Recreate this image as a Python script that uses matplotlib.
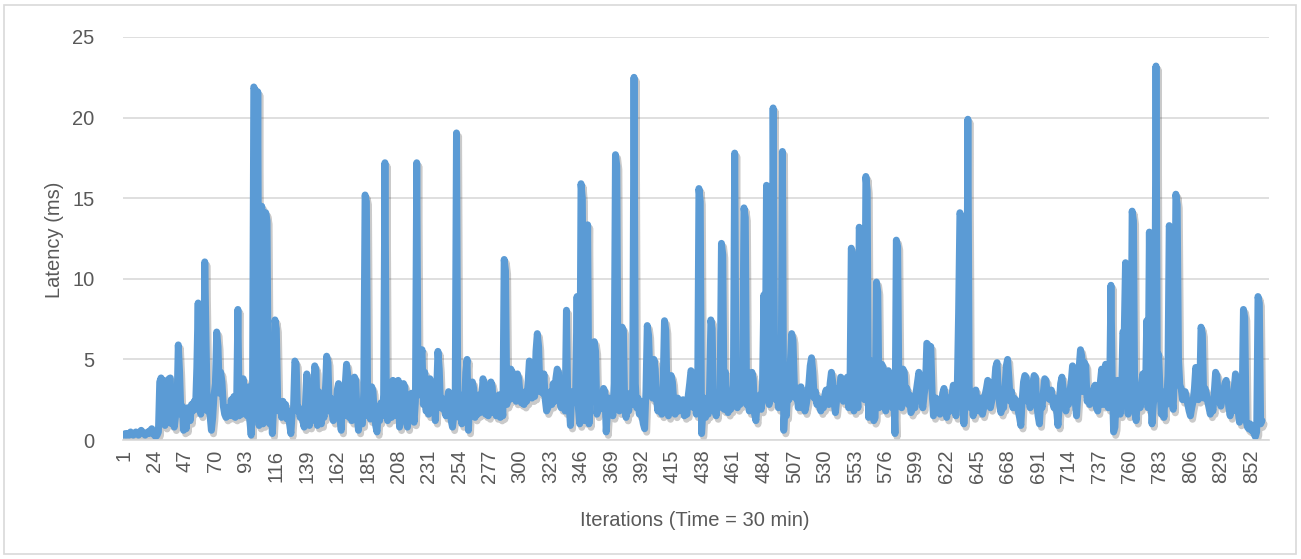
import matplotlib
matplotlib.use("Agg")
import matplotlib.pyplot as plt
import matplotlib.patheffects as pe
from matplotlib.patches import Rectangle

# latency per iteration (ms), 20 values per row
latency = [
    0.3, 0.4, 0.3, 0.4, 0.3, 0.5, 0.4, 0.3, 0.4, 0.5, 0.4, 0.3, 0.5, 0.6, 0.5, 0.4, 0.3, 0.4, 0.5, 0.4,
    0.6, 0.7, 0.4, 0.3, 0.2, 0.3, 0.5, 3.6, 3.85, 1.2, 3.7, 0.9, 2.5, 1.1, 3.8, 3.85, 1.0, 2.6, 0.8, 1.5,
    2.0, 5.9, 4.2, 1.6, 2.1, 0.6, 1.8, 0.7, 2.0, 1.9, 1.2, 2.2, 1.8, 2.4, 1.9, 4.5, 8.5, 2.0, 1.6, 3.2,
    2.2, 11.05, 6.0, 1.8, 2.4, 1.5, 0.6, 1.4, 2.8, 3.5, 6.7, 5.8, 2.9, 4.2, 3.6, 2.1, 1.6, 1.4, 2.0, 1.5,
    1.6, 2.5, 1.5, 2.7, 1.4, 2.0, 8.1, 1.5, 2.3, 1.6, 3.8, 1.7, 2.6, 1.5, 3.3, 1.2, 0.3, 2.0, 21.9, 21.7,
    3.0, 21.6, 0.9, 5.5, 14.5, 1.0, 11.5, 14.1, 13.6, 2.2, 1.0, 2.5, 0.4, 2.1, 7.45, 6.9, 2.6, 1.8, 2.3, 1.4,
    2.4, 1.6, 2.2, 1.3, 1.8, 1.0, 0.4, 1.7, 2.0, 4.9, 4.7, 1.8, 2.0, 1.4, 1.9, 1.2, 0.8, 2.2, 4.1, 3.2,
    0.9, 3.5, 1.2, 2.5, 4.6, 4.3, 0.9, 3.0, 1.6, 1.0, 2.2, 1.4, 3.0, 5.2, 4.8, 1.8, 2.6, 1.7, 1.2, 2.4,
    1.9, 3.1, 3.5, 1.3, 0.6, 2.7, 1.5, 3.4, 4.7, 4.0, 1.4, 2.6, 1.2, 2.0, 3.9, 3.7, 1.5, 0.6, 1.8, 1.2,
    1.0, 3.0, 15.2, 14.8, 1.5, 2.4, 1.3, 3.3, 3.0, 1.6, 0.9, 0.5, 1.8, 1.2, 2.3, 1.5, 2.8, 17.2, 3.2, 1.2,
    1.8, 3.0, 1.4, 3.7, 3.5, 2.0, 1.5, 3.7, 0.8, 1.6, 2.4, 3.5, 3.3, 1.2, 0.8, 2.2, 1.5, 2.9, 1.9, 1.1,
    2.4, 17.2, 3.0, 2.8, 5.0, 5.6, 2.2, 4.2, 1.8, 2.0, 1.6, 3.8, 2.5, 1.9, 2.6, 1.2, 3.0, 5.5, 4.4, 2.0,
    2.6, 1.9, 2.0, 1.5, 2.4, 3.0, 2.7, 1.2, 0.8, 1.5, 2.0, 19.05, 2.2, 1.4, 2.5, 1.0, 2.8, 2.0, 4.2, 5.0,
    0.6, 2.6, 1.8, 3.6, 3.2, 1.4, 2.2, 1.6, 2.8, 1.7, 2.4, 3.8, 3.5, 1.6, 2.5, 1.5, 2.1, 3.6, 3.3, 1.7,
    2.6, 1.5, 1.9, 2.8, 1.4, 2.2, 1.5, 11.2, 10.5, 2.2, 3.0, 2.5, 4.4, 4.2, 2.6, 3.1, 2.4, 4.1, 3.8, 2.8,
    2.3, 2.8, 2.2, 3.0, 2.4, 3.5, 4.9, 4.6, 2.6, 3.4, 2.7, 5.5, 6.6, 5.8, 3.0, 3.6, 2.9, 4.1, 2.5, 1.8,
    2.0, 2.6, 3.0, 2.2, 3.5, 2.4, 3.8, 4.4, 4.2, 2.4, 2.0, 3.0, 2.2, 1.8, 8.05, 2.4, 2.2, 0.9, 3.0, 2.3,
    2.6, 3.2, 8.9, 2.0, 1.0, 15.9, 15.0, 3.0, 1.2, 4.5, 13.35, 1.0, 3.0, 2.4, 4.2, 6.1, 5.5, 1.6, 2.8, 1.9,
    2.0, 2.5, 3.2, 3.0, 0.5, 1.8, 2.6, 1.9, 2.4, 1.5, 3.5, 17.7, 17.0, 2.2, 1.8, 3.0, 7.0, 6.8, 2.0, 1.4,
    2.5, 1.8, 2.9, 2.2, 3.0, 22.5, 3.5, 2.0, 2.6, 1.6, 2.4, 1.5, 1.0, 0.7, 3.0, 7.1, 6.5, 4.0, 3.2, 2.6,
    5.0, 4.4, 2.5, 1.8, 2.8, 2.2, 1.6, 3.5, 7.4, 6.8, 2.5, 1.5, 2.2, 4.0, 3.6, 2.4, 1.6, 2.0, 2.6, 1.8,
    2.2, 1.9, 2.5, 1.5, 1.8, 1.6, 2.8, 3.5, 4.3, 4.1, 2.0, 3.2, 1.6, 2.4, 15.6, 14.8, 0.4, 1.8, 2.6, 1.4,
    2.2, 1.6, 3.0, 7.45, 6.9, 1.8, 2.5, 1.5, 2.9, 2.0, 3.1, 12.2, 11.5, 1.9, 4.2, 2.4, 1.7, 3.0, 1.9, 2.5,
    3.4, 17.8, 3.0, 2.0, 4.0, 2.2, 2.8, 3.8, 14.4, 13.8, 2.2, 3.0, 1.8, 3.2, 4.2, 3.8, 1.6, 1.2, 2.4, 2.0,
    2.8, 1.9, 3.5, 9.0, 2.5, 15.8, 3.0, 2.2, 4.5, 2.8, 20.6, 6.5, 2.5, 3.2, 2.0, 3.5, 2.4, 17.9, 0.6, 2.2,
    1.5, 3.0, 2.5, 4.8, 6.6, 6.2, 3.5, 2.6, 3.0, 2.0, 2.5, 3.3, 2.0, 2.5, 1.8, 2.2, 2.7, 3.5, 4.6, 5.1,
    4.2, 2.6, 3.0, 2.2, 2.6, 2.1, 1.8, 2.4, 2.0, 2.8, 3.1, 2.5, 2.2, 3.5, 4.2, 3.6, 2.3, 1.7, 2.5, 3.2,
    2.6, 3.9, 3.8, 2.4, 3.6, 2.8, 3.9, 2.0, 3.0, 11.9, 11.5, 1.8, 2.6, 3.4, 2.0, 13.2, 12.6, 3.0, 4.0, 2.5,
    16.35, 15.5, 1.4, 2.5, 4.9, 4.5, 1.2, 1.4, 9.8, 9.2, 2.0, 3.5, 4.7, 4.5, 2.2, 1.8, 3.0, 4.3, 4.0, 2.4,
    2.0, 2.8, 0.4, 12.4, 12.0, 2.5, 3.0, 2.0, 4.4, 4.2, 2.6, 3.2, 2.2, 2.8, 1.7, 1.9, 2.6, 2.0, 3.0, 3.6,
    4.2, 3.8, 2.5, 2.0, 2.8, 3.4, 6.0, 5.9, 5.6, 5.8, 3.0, 1.5, 2.2, 2.6, 1.8, 2.4, 1.6, 2.2, 2.9, 3.2,
    2.5, 1.4, 2.0, 2.6, 1.8, 2.8, 3.4, 3.0, 1.5, 3.2, 7.9, 14.1, 13.8, 3.0, 1.0, 2.4, 3.0, 19.9, 3.4, 2.0,
    2.8, 1.5, 2.6, 3.1, 2.4, 1.8, 2.2, 2.6, 1.6, 2.0, 2.8, 3.2, 3.7, 3.6, 2.0, 2.4, 2.9, 3.4, 4.5, 4.8,
    3.0, 2.2, 1.7, 2.6, 2.0, 3.2, 4.6, 5.0, 3.8, 2.4, 3.0, 2.0, 2.6, 2.5, 2.2, 1.8, 1.4, 0.9, 2.5, 3.6,
    4.0, 3.9, 2.4, 2.8, 2.0, 3.0, 3.5, 4.0, 3.9, 2.2, 1.5, 1.0, 2.4, 2.0, 3.0, 3.8, 3.7, 2.6, 3.0, 2.5,
    3.1, 2.4, 2.0, 2.6, 1.8, 0.9, 2.2, 3.5, 3.9, 3.2, 2.4, 1.8, 2.6, 2.2, 3.0, 3.6, 4.6, 4.4, 2.4, 1.5,
    2.8, 4.5, 5.6, 5.2, 3.0, 4.8, 4.6, 2.4, 2.8, 2.2, 3.0, 2.6, 3.2, 3.4, 2.0, 1.8, 2.6, 3.6, 4.4, 2.2,
    3.2, 4.7, 2.4, 2.0, 3.0, 9.6, 3.5, 0.5, 0.8, 2.8, 3.7, 2.2, 1.6, 3.0, 6.7, 6.5, 11.0, 2.5, 1.6, 6.0,
    2.2, 14.2, 13.6, 1.8, 1.2, 2.6, 3.0, 2.0, 3.5, 4.1, 3.6, 2.4, 7.4, 2.0, 12.9, 2.6, 1.0, 2.2, 3.0, 23.2,
    4.0, 5.3, 3.2, 1.6, 2.6, 1.4, 3.0, 2.2, 4.0, 13.3, 12.8, 2.5, 1.9, 4.5, 15.25, 14.6, 5.0, 3.4, 3.2, 2.5,
    2.8, 3.0, 2.6, 2.2, 1.8, 1.5, 2.0, 2.4, 3.2, 4.5, 4.2, 2.5, 3.0, 7.0, 6.6, 2.6, 3.2, 2.9, 2.4, 2.0,
    1.6, 2.2, 1.8, 3.0, 4.2, 4.0, 2.6, 2.4, 2.1, 2.6, 3.0, 3.5, 3.7, 2.8, 2.0, 1.5, 2.4, 1.8, 3.2, 4.1,
    3.6, 1.8, 1.1, 1.6, 2.2, 8.1, 7.6, 1.2, 0.8, 0.7, 1.0, 0.6, 0.9, 0.4, 0.2, 0.5, 8.9, 8.5, 1.0, 1.2,
]
iterations = list(range(1, len(latency) + 1))
tick_labels = list(range(1, 861, 23))

txt = "#595959"
grid = "#D9D9D9"
blue = "#5B9BD5"

plt.rcParams["font.family"] = ["Liberation Sans", "DejaVu Sans"]

fig = plt.figure(figsize=(13.01, 5.59), dpi=100)
ax = fig.add_axes([122.5 / 1301, 1 - 440 / 559, (1269 - 122.5) / 1301, (440 - 37) / 559])

ax.plot(iterations, latency, color=blue, lw=5.0, solid_joinstyle="round",
        solid_capstyle="round",
        path_effects=[pe.SimpleLineShadow(offset=(1.5, -2.5), shadow_color="#505050", alpha=0.3),
                      pe.Normal()])

ax.set_xlim(-0.1, 865.3)
ax.set_ylim(0, 25)
ax.set_yticks([0, 5, 10, 15, 20, 25])
ax.set_xticks(tick_labels)
ax.set_xticklabels([str(t) for t in tick_labels], rotation=90)
ax.tick_params(axis="both", length=0, colors=txt, labelsize=14.5)
ax.tick_params(axis="y", pad=20)
ax.tick_params(axis="x", pad=7)
ax.grid(axis="y", color=grid, lw=1.2)
ax.set_axisbelow(True)
for s in ["top", "right", "left"]:
    ax.spines[s].set_visible(False)
ax.spines["bottom"].set_color(grid)
ax.spines["bottom"].set_linewidth(1.2)

fig.text(695 / 1301, 1 - 520 / 559, "Iterations (Time = 30 min)", ha="center", va="center",
         color=txt, fontsize=14.5)
fig.text(55 / 1301, 1 - 240 / 559, "Latency (ms)", ha="center", va="center", rotation=90,
         color=txt, fontsize=14.5)

fig.patches.append(Rectangle((4 / 1301, 1 - 554 / 559), 1292 / 1301, 549 / 559,
                             transform=fig.transFigure, fill=False, edgecolor=grid, lw=1.2))

fig.savefig("out.png", dpi=100)
